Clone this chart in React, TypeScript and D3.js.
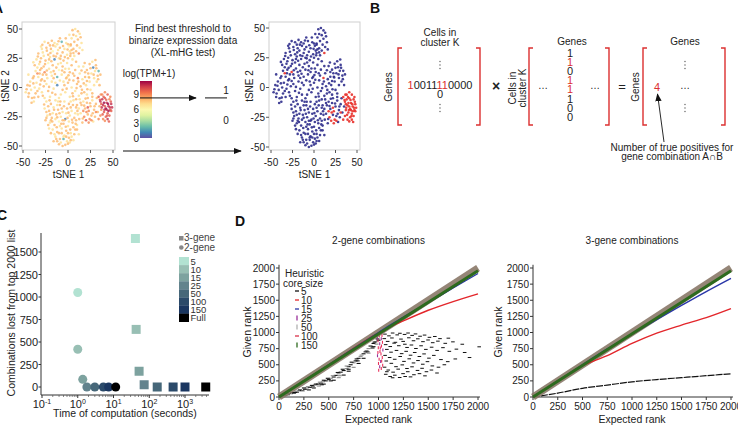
import React from "react";
import * as d3 from "d3";

const FONT = "'Liberation Sans', Arial, Helvetica, sans-serif";
const INK = "#222";
const RED = "#dc3030";

// ---------- A: tSNE embedding, one row per cell: [tSNE 1, tSNE 2, log(TPM+1)]
const cells: number[][] = [
  [5,49,8],[8,50,7],[11,48,8],[13,46,7],[6,45,8],[9,44,7],[14,43,8],[4,42,7],[11,41,8],[7,39,8],[15,38,7],[3,37,8],[10,36,8],[13,34,7],[6,33,8],[9,31,8],[16,32,7],[12,29,9],
  [-26,39,7],[-22,38,8],[-18,40,8],[-12,37,7],[-7,39,2],[-2,38,7],
  [-30,35,7],[-24,34,8],[-19,33,8],[-14,35,7],[-9,34,8],[-4,33,7],[1,35,6],[4,32,8],
  [-33,29,8],[-28,30,7],[-22,28,8],[-17,31,6],[-12,29,8],[-6,30,8],[-1,28,7],[3,29,8],
  [-35,24,7],[-30,25,8],[-25,23,8],[-20,26,7],[-15,24,1],[-10,25,7],[-5,23,8],[0,25,8],[5,24,7],
  [-37,19,8],[-32,20,7],[-27,18,8],[-22,21,6],[-17,19,8],[-11,20,7],[-6,18,8],[-1,21,7],[4,19,8],
  [-36,14,7],[-31,15,8],[-26,13,9],[-21,16,7],[-16,14,8],[-10,15,6],[-4,13,8],[1,16,7],
  [-33,9,7],[-28,11,8],[-23,8,7],[-18,10,7],[-12,9,2],[-7,11,7],[-2,8,8],
  [-20,36,8],[-15,38,7],[-27,27,7],[-8,27,8],[2,31,7],[-31,22,8],[-13,17,8],[-3,16,7],[-24,11,8],[-9,6,7],
  [-16,27,8],[-29,33,7],[-11,32,7],[0,37,8],[-21,24,8],[-34,17,7],[-8,21,7],[2,13,8],[-19,13,7],[-29,7,8],[-5,5,7],[7,27,7],[9,22,8],[12,18,7],[8,15,8],[-14,4,7],
  [-28.5,36.5,8],[-23.5,31.5,8],[-16.5,36,8],[-10.5,39.5,8],[-5.5,35.5,8],[-0.5,32.5,8],[2.5,27,8],[-3.5,26,8],[-13.5,26.5,8],[-18.5,22.5,8],[-25.5,20,8],[-33.5,26.5,8],[-38.5,21.5,7],[-29.5,16.5,8],[-23.5,14.5,8],[-14.5,11.5,8],[-6.5,14.5,8],[0.5,10.5,8],[5.5,12,8],[-8.5,24.5,8],[-19.5,29.5,8],[-31.5,12,8],[-38,9.5,8],[-26,5.5,8],[-16,8,8],[6,29.5,8],[3,36,8],[-2.5,42,8],[1.5,45,7],[-9,42,8],
  [-47,-4,7],[-45,2,8],[-44,-8,8],[-42,5,7],[-41,-2,7],[-40,-9,8],[-39,8,8],[-37,0,7],[-36,-5,8],[-35,4,7],[-33,-8,8],[-32,-1,7],[-30,6,8],[-29,-4,7],[-27,1,8],[-26,-9,7],[-44,11,7],[-38,-12,7],[-34,12,9],
  [-46,-1.5,8],[-43.5,-5,8],[-42.5,1.5,8],[-38.5,3.5,8],[-37.5,-8.5,8],[-34,-3,8],[-31,2.5,8],[-28,-7,8],[-40.5,-13,8],
  [-24,3,7],[-22,-3,8],[-20,-8,7],[-18,5,7],[-16,-1,7],[-14,-6,8],[-12,2,1],[-3,-4,7],[0,4,8],[2,-8,7],[4,0,7],[6,6,8],[8,-3,7],[10,3,8],[12,-7,7],[14,1,8],[16,7,7],[18,-4,8],[20,2,7],[22,-9,8],[24,5,7],[-1,9,7],[7,10,8],[13,12,7],[19,9,8],[25,-2,7],[-10,-9,7],[-6,-2,8],[3,-12,7],[9,-10,8],[11,8,9],
  [15,-5,8],[21,-6,7],[27,-5,8],[29,2,7],[-8,-6,7],[5,-5,8],
  [-21,0.5,8],[-17.5,-4.5,8],[-8.5,-12,8],[-1.5,-1,8],[1.5,6.5,8],[5.5,-7.5,8],[9.5,-0.5,8],[11.5,5,8],[15.5,-2,8],[17.5,3.5,8],[21.5,-1.5,8],[23.5,8.5,8],[27,-8,8],[19.5,-9.5,8],[-4,2,8],
  [17,18,7],[21,15,8],[24,20,8],[26,12,7],[28,17,1],[30,14,7],[31,19,8],[33,10,8],[29,8,7],[23,9,7],[19,13,8],[27,22,7],[32,5,7],[35,2,8],[34,14,2],
  [15,14.5,8],[18.5,21,8],[22.5,12,8],[25,16.5,8],[28.5,11,8],[31.5,16.5,8],[33.5,7,8],[36,11,8],[30.5,23.5,8],[21,5.5,8],
  [34,-8,10],[36,-12,11],[38,-6,9],[39,-15,11],[41,-9,10],[42,-18,12],[43,-13,11],[44,-22,10],[45,-16,11],[46,-10,9],[47,-19,10],[48,-14,11],[40,-21,10],[37,-19,9],[35,-16,8],[42,-25,10],[39,-27,9],[44,-27,11],[46,-24,10],[36,-24,9],[33,-21,8],[41,-4,9],[44,-6,10],[47,-8,9],[38,-10,11],[40,-13,12],[43,-19,11],[45,-20,12],[41,-16,10],[37,-14,10],[34,-27,9],[48,-20,10],
  [35.5,-10.5,10],[37.5,-17,11],[39.5,-8,10],[40.5,-19,11],[42.5,-10.5,10],[44.5,-14,12],[46.5,-17,11],[43.5,-24,10],[38.5,-23,10],[41,-28.5,9],[45.5,-29,10],[47.5,-12,10],[36.5,-6,9],[49,-17,11],
  [13,-10,7],[15,-15,8],[17,-12,7],[19,-18,8],[21,-13,8],[23,-20,9],[25,-16,8],[27,-11,7],[29,-19,8],[31,-14,8],[14,-22,7],[18,-25,9],[20,-28,10],[22,-23,8],[24,-27,9],[26,-24,8],[28,-29,7],[16,-30,8],[30,-25,8],[12,-18,7],
  [26,-28,9],[17,-20,9],[22,-17,10],[31,-21,9],
  [14,-13,8],[18,-15.5,8],[20.5,-21,9],[24.5,-13.5,8],[27.5,-22,8],[29.5,-16,8],[16.5,-26.5,8],[23,-30,9],[12.5,-27,8],[32,-9,8],
  [-24,-12,7],[-19,-14,8],[-14,-11,7],[-9,-15,8],[-4,-12,7],[1,-14,8],[6,-11,7],[10,-15,8],
  [-26,-18,7],[-21,-20,8],[-16,-17,7],[-11,-19,8],[-6,-21,7],[-1,-18,8],[4,-20,7],[9,-17,8],
  [-23,-24,7],[-18,-26,8],[-13,-23,8],[-8,-25,7],[-3,-27,1],[2,-24,7],[7,-26,8],[11,-23,7],
  [-20,-30,7],[-15,-32,8],[-10,-29,6],[-5,-31,8],[0,-33,7],[5,-30,8],[10,-32,7],
  [-17,-36,7],[-12,-38,8],[-7,-35,7],[-2,-37,8],[3,-39,7],[8,-36,8],
  [-14,-42,7],[-9,-44,8],[-4,-41,7],[1,-43,8],[6,-45,7],
  [-8,-47,7],[-3,-49,8],[2,-47,7],[-5,-44,2],
  [-21,-35,7],[-25,-28,8],[12,-40,7],[-12,-46,8],
  [-22,-16,8],[-17,-22,7],[-12,-15,7],[-7,-18,8],[-2,-22,7],[3,-17,8],[8,-22,7],[-19,-28,8],[-14,-27,7],[-9,-33,7],[-4,-28,8],[1,-29,7],[6,-34,8],[-15,-40,7],[-10,-39,8],[-5,-42,7],[0,-39,8],[4,-42,7],[-1,-46,7],[-6,-50,8],[9,-28,8],[-11,-12,7],
  [-26.5,-14.5,8],[-20.5,-11,8],[-15.5,-19,8],[-9.5,-22,8],[-4.5,-16,8],[0.5,-21.5,8],[5.5,-15,8],[10.5,-20,8],[-24,-21,8],[-20,-23,8],[-12,-25.5,8],[-6,-28,8],[-0.5,-26,8],[4.5,-27.5,8],[8.5,-31,8],[-22,-32,8],[-17.5,-29,8],[-12.5,-34,8],[-7.5,-31,8],[-2.5,-33.5,8],[2.5,-36,8],[7,-40,8],[-19,-39,8],[-13,-44,8],[-7,-39,8],[-2,-42,8],[3,-45,8],[-10,-48.5,8],[0,-48,8],[-16,-46,8],[10,-36,8],[-24,-26,8],
];
const tsneTicks = [-50, -25, 0, 25, 50];
const exprTicks = [0, 3, 6, 9];
const exprMax = 11.8;
const threshold = 8.3;

// ---------- B: binary expression matrices
const rowBits = ["1", "0", "0", "1", "1", "1", "1", "0", "0", "0", "0"];
const rowHit = [1, 0, 0, 0, 0, 1, 1, 0, 0, 0, 0];
const colBits = ["1", "1", "0", "1", "1", "1", "0", "0"];
const colHit = [0, 1, 0, 1, 1, 0, 0, 0];

// ---------- C: heuristic core size vs. run time
const coreSizes = ["5", "10", "15", "25", "50", "100", "150", "Full"];
const coreColors = ["#b2e2d2", "#98bfb4", "#7da29f", "#62838d", "#466779", "#2b4a6a", "#1a3660", "#000000"];
const time2 = [1.0, 1.0, 1.38, 1.8, 3.0, 5.2, 7.3, 11.5];
const lost2 = [1050, 420, 85, 0, 0, 0, 0, 0];
const time3 = [41, 43, 52, 72, 167, 465, 1000, 3800];
const lost3 = [1650, 640, 175, 25, 0, 0, 0, 0];
const lostTicks = [0, 250, 500, 750, 1000, 1250, 1500];
const timeExps = [-1, 0, 1, 2, 3];

// ---------- D: given vs expected rank
const rankTicks = [0, 250, 500, 750, 1000, 1250, 1500, 1750, 2000];
const exp2 = [0, 500, 1000, 1100, 1250, 1500, 1750, 2000];
const core10of2 = [0, 500, 995, 1075, 1180, 1345, 1480, 1600];
const core15of2 = [0, 500, 1000, 1098, 1240, 1465, 1690, 1915];
const exp3 = [0, 250, 500, 750, 1000, 1250, 1500, 1750, 2000];
const core5of3 = [0, 60, 135, 185, 235, 270, 300, 330, 360];
const core10of3 = [0, 245, 485, 640, 830, 990, 1115, 1230, 1370];
const core15of3 = [0, 250, 500, 745, 975, 1200, 1420, 1635, 1840];
const diagEnds = [0, 2000];

// core size 5, 2-gene: ranks along the lower edge
const core5Low: number[][] = [
  [30,10],[60,25],[90,35],[120,50],[150,60],[180,75],[200,95],[230,100],[260,120],[280,140],[310,150],[340,170],[360,185],[390,200],[420,215],[440,235],[470,250],[500,270],[520,290],[550,310],[570,335],[600,360],[620,385],[650,410],[680,440],[700,470],[720,500],[750,530],[770,560],[800,600],[820,630],[850,670],[870,700],[900,750],[920,790],[950,830],[970,860],[990,900],[1000,880],[980,820],[940,760],[890,700],[830,650],[780,590],[730,540],[680,480],[640,430],[590,380],[540,330],[490,290],[450,260],[410,230],[370,200],[330,180],[290,160],[250,140],[210,110],[170,90],[130,70],[100,55],[70,35],
  [300,110],[350,140],[400,170],[450,200],[550,260],[600,300],[650,340],[700,400],[750,460],[800,520],[850,600],[900,680],[950,780],
  [520,250],[610,330],[700,430],[790,560],[880,720],[960,850],[430,190],[240,95],[160,70],
];
// core size 5, 2-gene: ranks beyond the top 1000
const core5High: number[][] = [
  [1065,975],[1105,948],[1142,992],[1188,963],[1215,988],[1262,970],[1297,992],[1338,955],[1372,978],[1418,942],[1463,960],[1512,925],[1566,938],[1618,905],[1702,912],
  [1058,905],[1092,862],[1135,915],[1170,848],[1226,898],[1248,862],[1305,918],[1352,872],[1395,902],[1447,858],[1498,884],[1545,842],[1597,866],[1671,832],[1748,855],[1842,818],[2012,778],
  [1072,812],[1118,782],[1157,835],[1204,795],[1265,818],[1287,768],[1331,806],[1376,752],[1428,794],[1476,738],[1534,772],[1589,722],[1648,765],[1712,708],[1783,742],[1866,690],[1915,612],
  [1084,738],[1126,695],[1181,722],[1233,672],[1278,708],[1322,648],[1364,690],[1411,628],[1458,668],[1507,602],[1556,645],[1628,580],[1696,548],[1772,590],
  [1066,645],[1112,612],[1163,585],[1218,628],[1256,552],[1309,592],[1352,528],[1397,565],[1445,508],[1492,548],[1541,482],[1603,462],[1662,500],
  [1078,558],[1129,522],[1176,470],[1239,498],[1286,442],[1337,468],[1392,412],[1438,445],[1482,392],[1532,418],[1588,372],
  [1061,462],[1098,418],[1147,385],[1198,432],[1247,362],[1294,392],[1356,345],[1412,362],[1467,328],
  [1073,352],[1117,318],[1164,338],[1213,302],[1268,318],[1084,392],[1142,298],[1322,312],
];
// core sizes 25 / 100, 2-gene: ranks near 1000 (0 = 25, 1 = 100)
const midCore: number[][] = [
  [1008,945,1],[1028,905,0],[995,872,1],[1040,848,1],[1012,826,0],[1030,790,1],[998,762,1],[1044,728,0],[1015,705,1],[1025,668,1],[990,640,0],[1038,612,1],[1006,585,1],[1022,552,0],[1000,520,1],[1042,492,1],[1012,470,0],[1028,440,1],[1002,415,1],[1035,955,1],[988,918,0],[1018,760,1],[1032,560,1],[994,690,1],
];
const legendSizes = ["5", "10", "15", "25", "50", "100", "150"];
const legendColors = ["#111111", "#e3262b", "#2a37a8", "#9a2f9a", "#b0b0b0", "#d9304a", "#2d6a1e"];
const legendVertical = [false, false, false, true, true, false, true];

const fmtInt = d3.format("d");

export default function App() {
  const xA1 = d3.scaleLinear().domain([-50, 50]).range([23, 113]);
  const yA1 = d3.scaleLinear().domain([-50, 50]).range([146, 29]);
  const xA2 = d3.scaleLinear().domain([-50, 50]).range([271, 357]);
  const yA2 = d3.scaleLinear().domain([-50, 50]).range([147, 28]);
  const yBar = d3.scaleLinear().domain([0, exprMax]).range([138, 81]);
  const exprColor = (v: number) => d3.interpolateSpectral(1 - v / exprMax);

  const xC = d3.scaleLog().domain([0.1, 1000]).range([42, 185]);
  const yC = d3.scaleLinear().domain([0, 1500]).range([387, 252]);

  const xD2 = d3.scaleLinear().domain([0, 2000]).range([279, 478]);
  const xD3 = d3.scaleLinear().domain([0, 2000]).range([533, 731]);
  const yD = d3.scaleLinear().domain([0, 2000]).range([397, 268]);

  const lineOf = (xs: d3.ScaleLinear<number, number>, ex: number[], gv: number[]) =>
    d3.line<number>().x((_, i) => xs(ex[i])).y((d) => yD(d)).curve(d3.curveMonotoneX)(gv) || "";

  const tsnePanel = (
    xs: d3.ScaleLinear<number, number>,
    ys: d3.ScaleLinear<number, number>,
    box: { x0: number; x1: number; y0: number; y1: number },
    fillOf: (e: number) => string,
    sorted: number[][],
    labelX: number,
    opacity: number
  ) => (
    <g>
      <rect x={box.x0} y={box.y0} width={box.x1 - box.x0} height={box.y1 - box.y0} fill="#fff" stroke="#cfcfcf" strokeWidth={1} />
      {sorted.map((c, i) => (
        <circle key={i} cx={xs(c[0])} cy={ys(c[1])} r={1.3} fill={fillOf(c[2])} fillOpacity={opacity} />
      ))}
      {tsneTicks.map((t) => (
        <g key={"y" + t}>
          <line x1={box.x0 - 3} x2={box.x0} y1={ys(t)} y2={ys(t)} stroke="#555" />
          <text x={box.x0 - 4} y={ys(t) + 3.5} textAnchor="end" fontSize={10} fill={INK}>{t}</text>
        </g>
      ))}
      {tsneTicks.map((t) => (
        <g key={"x" + t}>
          <line x1={xs(t)} x2={xs(t)} y1={box.y1} y2={box.y1 + 3} stroke="#555" />
          <text x={xs(t)} y={box.y1 + 15.5} textAnchor="middle" fontSize={10} fill={INK}>{t}</text>
        </g>
      ))}
      <text x={(box.x0 + box.x1) / 2} y={178} textAnchor="middle" fontSize={10} fill={INK}>tSNE 1</text>
      <text transform={`translate(${labelX},${(box.y0 + box.y1) / 2}) rotate(-90)`} textAnchor="middle" fontSize={10} fill={INK}>tSNE 2</text>
    </g>
  );

  const byExpr = [...cells].sort((a, b) => a[2] - b[2]);
  const gradStops = d3.range(0, 1.0001, 0.1);

  const vdots = (x: number, y: number, color: string) => (
    <g>
      {[-3.5, 0, 3.5].map((d) => (
        <circle key={d} cx={x} cy={y + d} r={0.65} fill={color} />
      ))}
    </g>
  );

  const bracket = (x0: number, x1: number) => (
    <g fill="none" stroke={RED} strokeWidth={1.4}>
      <path d={`M${x0 + 4},48 H${x0} V125 H${x0 + 4}`} />
      <path d={`M${x1 - 4},48 H${x1} V125 H${x1 - 4}`} />
    </g>
  );

  const rankAxes = (xs: d3.ScaleLinear<number, number>, title: string, ylabX: number) => (
    <g>
      <text x={(xs(0) + xs(2000)) / 2} y={244} textAnchor="middle" fontSize={10} fill={INK}>{title}</text>
      <line x1={xs(0)} x2={xs(0)} y1={yD(2050)} y2={yD(0)} stroke="#333" />
      <line x1={xs(0)} x2={xs(2020)} y1={yD(0)} y2={yD(0)} stroke="#333" />
      {rankTicks.map((t) => (
        <g key={"y" + t}>
          <line x1={xs(0) - 3} x2={xs(0)} y1={yD(t)} y2={yD(t)} stroke="#333" />
          <text x={xs(0) - 4} y={yD(t) + 3.5} textAnchor="end" fontSize={10} fill={INK}>{fmtInt(t)}</text>
        </g>
      ))}
      {rankTicks.map((t) => (
        <g key={"x" + t}>
          <line x1={xs(t)} x2={xs(t)} y1={yD(0)} y2={yD(0) + 3} stroke="#333" />
          <text x={xs(t)} y={yD(0) + 13} textAnchor="middle" fontSize={10} fill={INK}>{fmtInt(t)}</text>
        </g>
      ))}
      <text x={(xs(0) + xs(2000)) / 2} y={423} textAnchor="middle" fontSize={10.5} fill={INK}>Expected rank</text>
      <text transform={`translate(${ylabX},332) rotate(-90)`} textAnchor="middle" fontSize={10.5} fill={INK}>Given rank</text>
    </g>
  );

  const refBand = (xs: d3.ScaleLinear<number, number>) => (
    <line x1={xs(diagEnds[0])} y1={yD(diagEnds[0])} x2={xs(diagEnds[1])} y2={yD(diagEnds[1])} stroke="#8a7868" strokeWidth={7} strokeOpacity={0.9} />
  );
  const greenLine = (xs: d3.ScaleLinear<number, number>) => (
    <line x1={xs(diagEnds[0])} y1={yD(diagEnds[0])} x2={xs(diagEnds[1])} y2={yD(diagEnds[1] * 0.978)} stroke="#2d6a1e" strokeWidth={3} />
  );

  const minorTicks: number[] = [];
  for (let e = -1; e <= 3; e++) for (let m = 2; m <= 9; m++) {
    const v = m * Math.pow(10, e);
    if (xC(v) <= 209) minorTicks.push(v);
  }

  return (
    <svg width={738} height={432} style={{ position: "absolute", left: 0, top: 0, fontFamily: FONT }}>
      <defs>
        <linearGradient id="exprGrad" x1="0" y1="1" x2="0" y2="0">
          {gradStops.map((t) => (
            <stop key={t} offset={t} stopColor={exprColor(t * exprMax)} />
          ))}
        </linearGradient>
        <marker id="arrowHead" viewBox="0 0 10 10" refX="9" refY="5" markerWidth="8" markerHeight="8" orient="auto-start-reverse" markerUnits="userSpaceOnUse">
          <path d="M0,1 L10,5 L0,9 z" fill="#111" />
        </marker>
      </defs>
      <rect width={738} height={432} fill="#fff" />

      {/* ---------- A ---------- */}
      <text x={-7} y={13} fontSize={14} fontWeight="bold" fill="#111">A</text>
      {tsnePanel(xA1, yA1, { x0: 22, x1: 115, y0: 22, y1: 150 }, exprColor, byExpr, 9, 0.8)}
      {tsnePanel(xA2, yA2, { x0: 269, x1: 360, y0: 22, y1: 150 }, (e) => (e > threshold ? "#e8302a" : "#2f2d8c"), byExpr, 253, 0.9)}

      <g fontSize={10} fill={INK} textAnchor="middle">
        <text x={183} y={32}>Find best threshold to</text>
        <text x={183} y={44}>binarize expression data</text>
        <text x={183} y={56}>(XL-mHG test)</text>
        <text x={149} y={77}>log(TPM+1)</text>
      </g>
      <rect x={140} y={yBar(exprMax)} width={12} height={yBar(0) - yBar(exprMax)} fill="url(#exprGrad)" />
      {exprTicks.map((t) => (
        <text key={t} x={139} y={yBar(t) + 3.5} textAnchor="end" fontSize={10} fill={INK}>{t}</text>
      ))}
      <line x1={140} x2={196} y1={yBar(threshold)} y2={yBar(threshold)} stroke="#111" strokeWidth={1} markerEnd="url(#arrowHead)" />
      <line x1={205} x2={227} y1={yBar(threshold)} y2={yBar(threshold)} stroke="#111" strokeWidth={1} />
      <text x={226} y={94} textAnchor="middle" fontSize={10} fill={INK}>1</text>
      <text x={226} y={124} textAnchor="middle" fontSize={10} fill={INK}>0</text>
      <line x1={123} x2={241} y1={151} y2={151} stroke="#111" strokeWidth={1.2} markerEnd="url(#arrowHead)" />

      {/* ---------- B ---------- */}
      <text x={370} y={13} fontSize={14} fontWeight="bold" fill="#111">B</text>
      <g fontSize={10} fill={INK} textAnchor="middle">
        <text x={440} y={36}>Cells in</text>
        <text x={440} y={46}>cluster K</text>
        <text x={572} y={45}>Genes</text>
        <text x={685} y={45}>Genes</text>
        <text transform="translate(392,87) rotate(-90)">Genes</text>
        <text transform="translate(516,88) rotate(-90)">Cells in</text>
        <text transform="translate(526,88) rotate(-90)">cluster K</text>
        <text transform="translate(639,87) rotate(-90)">Genes</text>
      </g>
      {bracket(398, 480)}
      {bracket(529, 609)}
      {bracket(643, 725)}
      {vdots(440, 65, "#555")}
      <text x={440} y={89} textAnchor="middle" fontSize={11} fill={INK}>
        {rowBits.map((b, i) => (
          <tspan key={i} fill={rowHit[i] ? RED : INK}>{b}</tspan>
        ))}
      </text>
      <text x={440} y={98} textAnchor="middle" fontSize={11} fill={INK}>0</text>
      {vdots(440, 108, "#555")}
      <text x={496} y={91} textAnchor="middle" fontSize={14} fontWeight="bold" fill={INK}>×</text>
      {colBits.map((b, i) => (
        <text key={i} x={570} y={57 + i * 9.1} textAnchor="middle" fontSize={11} fill={colHit[i] ? RED : INK}>{b}</text>
      ))}
      <text x={543} y={89} textAnchor="middle" fontSize={10} fill={INK}>…</text>
      <text x={595} y={89} textAnchor="middle" fontSize={10} fill={INK}>…</text>
      <text x={622} y={91} textAnchor="middle" fontSize={13} fill={INK}>=</text>
      {vdots(685, 65, "#555")}
      <text x={657} y={91} textAnchor="middle" fontSize={11} fill={RED}>4</text>
      <text x={685} y={89} textAnchor="middle" fontSize={10} fill={INK}>…</text>
      {vdots(685, 108, "#555")}
      <line x1={664} y1={142} x2={657.5} y2={94} stroke="#111" strokeWidth={0.9} markerEnd="url(#arrowHead)" />
      <g fontSize={10} fill={INK} textAnchor="middle">
        <text x={672} y={151}>Number of true positives for</text>
        <text x={672} y={160}>gene combination A∩B</text>
      </g>

      {/* ---------- C ---------- */}
      <text x={-3} y={220} fontSize={14} fontWeight="bold" fill="#111">C</text>
      <line x1={41} x2={41} y1={233} y2={395} stroke="#333" />
      <line x1={41} x2={209} y1={395} y2={395} stroke="#333" />
      {lostTicks.map((t) => (
        <g key={t}>
          <line x1={38.5} x2={41} y1={yC(t)} y2={yC(t)} stroke="#333" />
          <text x={38} y={yC(t) + 4} textAnchor="end" fontSize={11} fill={INK}>{t}</text>
        </g>
      ))}
      {minorTicks.map((v) => (
        <line key={v} x1={xC(v)} x2={xC(v)} y1={395} y2={397} stroke="#555" strokeWidth={0.7} />
      ))}
      {timeExps.map((e) => (
        <g key={e}>
          <line x1={xC(Math.pow(10, e))} x2={xC(Math.pow(10, e))} y1={395} y2={398} stroke="#333" />
          <text x={xC(Math.pow(10, e))} y={408} textAnchor="middle" fontSize={11} fill={INK}>
            10<tspan dy={-4} fontSize={7}>{e}</tspan>
          </text>
        </g>
      ))}
      <text x={125} y={417} textAnchor="middle" fontSize={10.5} fill={INK}>Time of computation (seconds)</text>
      <text transform="translate(15,313) rotate(-90)" textAnchor="middle" fontSize={10.5} fill={INK}>Combinations lost from top 2000 list</text>
      {time2.map((t, i) => (
        <circle key={i} cx={xC(t)} cy={yC(lost2[i])} r={4.5} fill={coreColors[i]} />
      ))}
      {time3.map((t, i) => (
        <rect key={i} x={xC(t) - 4.5} y={yC(lost3[i]) - 4.5} width={9} height={9} fill={coreColors[i]} />
      ))}
      <rect x={179} y={236} width={4.5} height={4.5} fill="#888" />
      <text x={184} y={241} fontSize={10} fill="#444">3-gene</text>
      <circle cx={181.3} cy={247.5} r={2.3} fill="#888" />
      <text x={184} y={251} fontSize={10} fill="#444">2-gene</text>
      {coreSizes.map((s, i) => (
        <g key={s}>
          <rect x={179} y={257 + i * 8.1} width={10} height={8.3} fill={coreColors[i]} />
          <text x={190.5} y={257 + i * 8.1 + 7.5} fontSize={9.5} fill="#333">{s}</text>
        </g>
      ))}

      {/* ---------- D ---------- */}
      <text x={235} y={226} fontSize={14} fontWeight="bold" fill="#111">D</text>
      {rankAxes(xD2, "2-gene combinations", 251)}
      {core5Low.map((p, i) => (
        <line key={i} x1={xD2(p[0]) - 2} x2={xD2(p[0]) + 2} y1={yD(p[1])} y2={yD(p[1])} stroke={i % 3 === 0 ? "#888" : "#111"} strokeWidth={1.1} />
      ))}
      {core5High.map((p, i) => (
        <line key={i} x1={xD2(p[0]) - 1.8} x2={xD2(p[0]) + 1.8} y1={yD(p[1])} y2={yD(p[1])} stroke="#111" strokeWidth={1} />
      ))}
      {midCore.map((p, i) => (
        <line key={i} x1={xD2(p[0])} x2={xD2(p[0])} y1={yD(p[1]) - 1.5} y2={yD(p[1]) + 1.5} stroke={p[2] ? "#e8305a" : "#9a2f9a"} strokeWidth={1.1} />
      ))}
      {refBand(xD2)}
      <path d={lineOf(xD2, exp2, core10of2)} fill="none" stroke="#e3262b" strokeWidth={1.4} />
      <path d={lineOf(xD2, exp2, core15of2)} fill="none" stroke="#2a37a8" strokeWidth={1.4} />
      {greenLine(xD2)}
      <text x={285} y={276.5} fontSize={10} fill={INK}>Heuristic</text>
      <text x={283} y={286.5} fontSize={10} fill={INK}>core size</text>
      {legendSizes.map((s, i) => {
        const cy = 291 + i * 9;
        return (
          <g key={s}>
            {legendVertical[i] ? (
              <line x1={297} x2={297} y1={cy - 2.5} y2={cy + 2.5} stroke={legendColors[i]} strokeWidth={1.3} />
            ) : (
              <line x1={295} x2={299} y1={cy} y2={cy} stroke={legendColors[i]} strokeWidth={1.3} />
            )}
            <text x={301} y={cy + 3.5} fontSize={10} fill={INK}>{s}</text>
          </g>
        );
      })}

      {rankAxes(xD3, "3-gene combinations", 502)}
      <path d={lineOf(xD3, exp3, core5of3)} fill="none" stroke="#111" strokeWidth={1.2} strokeDasharray="7,1" />
      {refBand(xD3)}
      <path d={lineOf(xD3, exp3, core10of3)} fill="none" stroke="#e3262b" strokeWidth={1.4} />
      <path d={lineOf(xD3, exp3, core15of3)} fill="none" stroke="#2a37a8" strokeWidth={1.4} />
      {greenLine(xD3)}
    </svg>
  );
}
